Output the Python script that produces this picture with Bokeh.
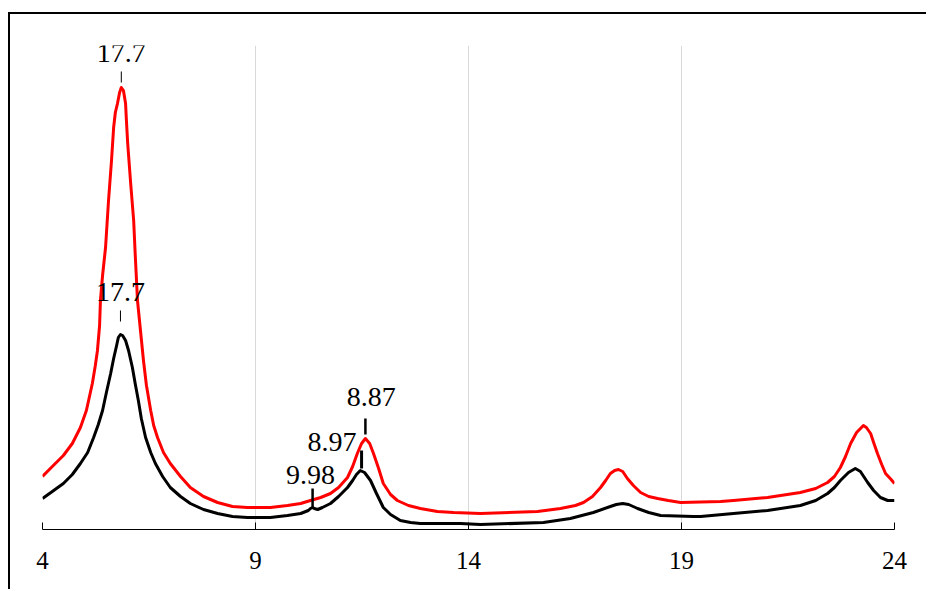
from bokeh.plotting import figure
from bokeh.models import Range1d, FixedTicker, ColumnDataSource
from bokeh.core.properties import value
from bokeh.embed import file_html
from bokeh.resources import INLINE

# ---- data (intensity in arbitrary units) ----
black_x = [4.00, 4.23, 4.49, 4.70, 4.89, 5.06, 5.20, 5.31, 5.41, 5.50, 5.60, 5.67, 5.74,
           5.78, 5.83, 5.88, 5.95, 6.02, 6.11, 6.18, 6.25, 6.32, 6.42, 6.54, 6.65, 6.82,
           7.00, 7.24, 7.47, 7.78, 8.11, 8.46, 8.81, 9.35, 9.75, 10.06, 10.24, 10.29,
           10.34, 10.38, 10.46, 10.57, 10.76, 10.95, 11.16, 11.28, 11.37, 11.46, 11.56,
           11.70, 11.84, 12.00, 12.17, 12.40, 12.64, 12.87, 13.81, 14.28, 15.76, 16.39,
           16.93, 17.33, 17.47, 17.62, 17.76, 17.97, 18.23, 18.51, 19.28, 19.45, 20.22,
           21.02, 21.79, 22.15, 22.43, 22.59, 22.73, 22.92, 23.08, 23.20, 23.37, 23.51,
           23.67, 23.84, 24.00]
black_y = [31, 38, 46, 55, 66, 77, 92, 105, 119, 137, 156, 171, 184,
           192, 195, 194, 189, 179, 162, 145, 129, 111, 92, 77, 66, 53,
           42, 33, 26, 20, 16, 13, 12, 12, 14, 16, 19, 21,
           22, 21, 20, 22, 26, 33, 42, 49, 55, 59, 57,
           49, 36, 22, 15, 9, 7, 6, 6, 5, 7, 11,
           17, 23, 25, 26, 25, 21, 17, 14, 13, 13, 16,
           19, 24, 29, 36, 42, 49, 57, 61, 58, 47, 39,
           32, 29, 29]

red_x = [4.00, 4.23, 4.49, 4.70, 4.89, 5.03, 5.17, 5.24, 5.29, 5.34, 5.36, 5.41, 5.48,
         5.55, 5.62, 5.67, 5.71, 5.76, 5.81, 5.85, 5.90, 5.95, 5.97, 6.00, 6.07, 6.14,
         6.18, 6.23, 6.30, 6.37, 6.44, 6.54, 6.61, 6.70, 6.84, 7.00, 7.24, 7.47, 7.78,
         8.11, 8.46, 8.81, 9.35, 9.75, 10.06, 10.29, 10.53, 10.76, 10.95, 11.16, 11.28,
         11.39, 11.49, 11.58, 11.68, 11.77, 11.89, 12.00, 12.17, 12.33, 12.59, 12.87,
         13.27, 13.65, 14.28, 15.62, 16.16, 16.51, 16.70, 16.91, 17.10, 17.22, 17.33,
         17.43, 17.52, 17.62, 17.73, 17.87, 18.04, 18.23, 18.44, 18.69, 18.98, 19.92,
         20.22, 21.02, 21.79, 22.15, 22.43, 22.59, 22.73, 22.85, 22.97, 23.11, 23.27,
         23.34, 23.44, 23.51, 23.60, 23.70, 23.79, 23.92, 24.00]
red_y = [53, 63, 74, 86, 102, 119, 146, 164, 179, 204, 229, 254, 282,
         329, 369, 402, 417, 426, 437, 442, 439, 426, 409, 386, 346, 309,
         272, 229, 199, 169, 144, 119, 104, 92, 77, 66, 53, 42, 33,
         27, 23, 22, 22, 24, 26, 29, 32, 36, 42, 52, 63,
         76, 86, 91, 86, 76, 61, 46, 35, 29, 24, 21,
         18, 17, 16, 18, 21, 24, 27, 33, 42, 49, 56,
         59, 60, 58, 51, 44, 37, 33, 31, 29, 27, 28,
         29, 32, 37, 41, 47, 53, 62, 73, 86, 97, 104,
         102, 96, 87, 76, 65, 56, 50, 46]

x_ticks = [4, 9, 14, 19, 24]

# peak annotations (d-spacings)
peak_text = ["17.7", "17.7", "8.87", "8.97", "9.98"]
peak_x = [5.85, 5.83, 11.58, 11.49, 10.34]
peak_y0 = [447, 208, 95, 61, 22]
peak_y1 = [458, 219, 111, 79, 41]
label_x = [5.85, 5.83, 11.72, 11.37, 10.29]
label_y = [477, 238, 133, 88, 55]

# ---- figure ----
p = figure(width=918, height=577, output_backend="svg", toolbar_location=None,
           x_range=Range1d(4, 24), y_range=Range1d(0, 484),
           y_axis_location=None,
           min_border_left=32, min_border_right=34, min_border_top=31,
           min_border_bottom=62)
p.margin = (12, 0, 0, 8)
p.styles = {"border-left": "2px solid black", "border-top": "2px solid black"}
p.outline_line_color = None
p.background_fill_color = "white"
p.border_fill_color = "white"

p.xaxis.ticker = FixedTicker(ticks=x_ticks)
p.xaxis.minor_tick_line_color = None
p.xaxis.major_tick_in = 7
p.xaxis.major_tick_out = 0
p.xaxis.axis_line_color = "black"
p.xaxis.major_tick_line_color = "black"
p.xaxis.major_label_text_font = "Liberation Serif"
p.xaxis.major_label_text_font_size = "25px"
p.xaxis.major_label_text_color = "black"
p.xaxis.major_label_standoff = 22

p.xgrid.ticker = FixedTicker(ticks=x_ticks)
p.xgrid.grid_line_color = "#d9d9d9"
p.xgrid.grid_line_width = 1
p.ygrid.grid_line_color = None

p.line(red_x, red_y, line_color="#ff0000", line_width=3, line_join="round")
p.line(black_x, black_y, line_color="black", line_width=3, line_join="round")

widths = [1, 1, 2.5, 3, 2.5]
src = ColumnDataSource(dict(x=peak_x, y0=peak_y0, y1=peak_y1, w=widths))
p.segment(x0="x", y0="y0", x1="x", y1="y1", line_width="w", line_color="black", source=src)

aligns = ["center", "center", "center", "right", "center"]
tsrc = ColumnDataSource(dict(x=label_x, y=label_y, t=peak_text, a=aligns))
p.text(x="x", y="y", text="t", text_align="a", text_baseline="alphabetic",
       text_font=value("Liberation Serif"), text_font_size="28px",
       text_color="black", source=tsrc)

open("out.html", "w").write(file_html(p, INLINE))
